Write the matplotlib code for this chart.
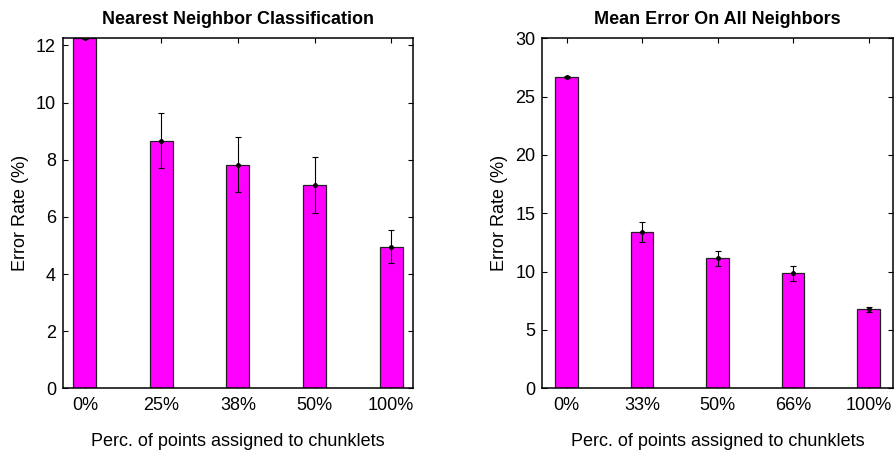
import numpy as np
import matplotlib
matplotlib.use("Agg")
import matplotlib.pyplot as plt

plt.rcParams['font.family'] = ['Liberation Sans', 'DejaVu Sans']

# datos
etiquetas_nn = ["0%", "25%", "38%", "50%", "100%"]
error_nn = [12.25, 8.67, 7.83, 7.12, 4.96]
std_nn = [0.01, 0.97, 0.95, 0.97, 0.57]

etiquetas_mean = ["0%", "33%", "50%", "66%", "100%"]
error_mean = [26.7, 13.37, 11.14, 9.86, 6.77]
std_mean = [0.06, 0.86, 0.66, 0.65, 0.2]

MAGENTA = "#ff00ff"

fig = plt.figure(figsize=(8.95, 4.51), dpi=100)
ax1 = fig.add_axes([0.0704, 0.139, 0.391, 0.776])
ax2 = fig.add_axes([0.606, 0.139, 0.3915, 0.776])


def barras(ax, etiquetas, valores, errores, titulo, ylim, yticks, xlim):
    x = np.arange(1, len(etiquetas) + 1)
    ax.bar(x, valores, width=0.3, color=MAGENTA, edgecolor="#222222",
           linewidth=0.9, zorder=2)
    ax.errorbar(x, valores, yerr=errores, fmt="o", color="black",
                markersize=2.5, elinewidth=0.8, capsize=2.5, capthick=0.8,
                zorder=3)
    ax.set_xlim(*xlim)
    ax.set_ylim(*ylim)
    ax.set_xticks(x)
    ax.set_xticklabels(etiquetas)
    ax.set_yticks(yticks)
    # estilo matlab: ticks hacia dentro en los cuatro lados
    ax.tick_params(direction="in", top=True, right=True, length=3.5,
                   width=0.8, labelsize=13, pad=6)
    ax.tick_params(axis="y", pad=5)
    for s in ax.spines.values():
        s.set_linewidth(1.1)
    ax.set_title(titulo, fontsize=13, fontweight="bold", pad=10)
    ax.set_ylabel("Error Rate (%)", fontsize=13, labelpad=5)
    ax.set_xlabel("Perc. of points assigned to chunklets", fontsize=13,
                  labelpad=14)


barras(ax1, etiquetas_nn, error_nn, std_nn, "Nearest Neighbor Classification",
       (0, 12.25), [0, 2, 4, 6, 8, 10, 12], (0.715, 5.285))
barras(ax2, etiquetas_mean, error_mean, std_mean, "Mean Error On All Neighbors",
       (0, 30), [0, 5, 10, 15, 20, 25, 30], (0.68, 5.32))

plt.savefig("out.png", dpi=100)
